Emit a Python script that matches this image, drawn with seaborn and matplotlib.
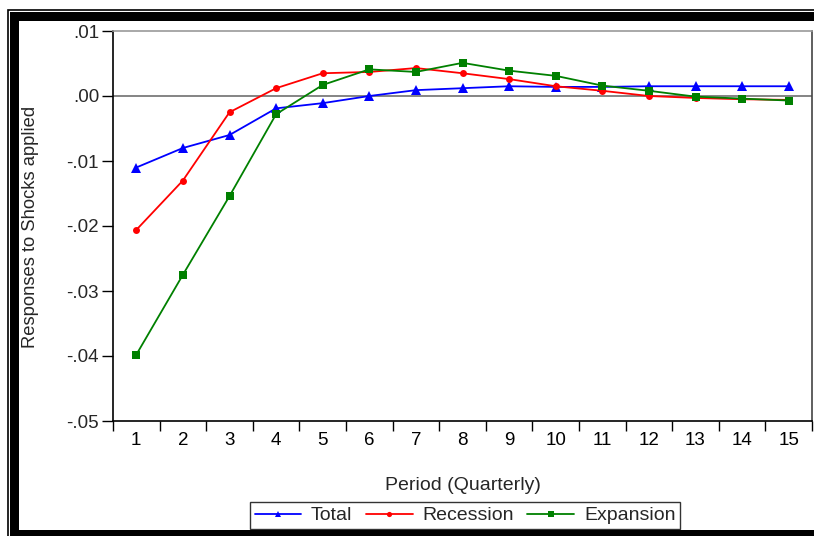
import matplotlib
matplotlib.use("Agg")
import matplotlib.pyplot as plt
from matplotlib.patches import Rectangle
from matplotlib.lines import Line2D
import seaborn as sns
import pandas as pd

periods = list(range(1, 16))
total = [-0.0110, -0.0080, -0.0060, -0.0019, -0.0011, 0.0000, 0.0009, 0.0012,
         0.0015, 0.0014, 0.0014, 0.0015, 0.0015, 0.0015, 0.0015]
recession = [-0.0206, -0.0130, -0.0025, 0.0012, 0.0035, 0.0037, 0.0043, 0.0035,
             0.0026, 0.0015, 0.0008, 0.0000, -0.0003, -0.0005, -0.0006]
expansion = [-0.0398, -0.0275, -0.0154, -0.0028, 0.0017, 0.0041, 0.0037, 0.0051,
             0.0039, 0.0031, 0.0016, 0.0008, -0.0001, -0.0004, -0.0007]
ytick_vals = [0.01, 0.00, -0.01, -0.02, -0.03, -0.04, -0.05]
ytick_labels = [".01", ".00", "-.01", "-.02", "-.03", "-.04", "-.05"]
series_names = ["Total", "Recession", "Expansion"]

sns.set_style("white")
plt.rcParams["font.family"] = ["Liberation Sans", "DejaVu Sans"]

W, H = 814, 536
fig = plt.figure(figsize=(W / 100, H / 100), dpi=100)
ax = fig.add_axes([113 / W, 115 / H, (812 - 113) / W, (421 - 31) / H])

styles = {
    "Total": dict(color="#0000FF", marker="^", ms=6.5),
    "Recession": dict(color="#FF0000", marker="o", ms=5),
    "Expansion": dict(color="#008000", marker="s", ms=6),
}
data = {"Total": total, "Recession": recession, "Expansion": expansion}

ax.axhline(0, color="#707070", lw=1.2, zorder=1)
for name in series_names:
    df = pd.DataFrame({"Period": periods, "Value": data[name]})
    st = styles[name]
    sns.lineplot(data=df, x="Period", y="Value", ax=ax, color=st["color"],
                 marker=st["marker"], markersize=st["ms"], markeredgewidth=0,
                 linewidth=1.3, label=name, legend=False, zorder=3)

ax.set_xlim(0.5, 15.5)
ax.set_ylim(-0.05, 0.01)
ax.set_xticks(periods)
ax.set_xticklabels([str(p) for p in periods])
ax.set_xticks([p + 0.5 for p in range(0, 16)], minor=True)
ax.tick_params(axis="x", which="major", length=0, pad=8, labelsize=13.5, colors="black")
ax.tick_params(axis="x", which="minor", length=7, width=1, direction="out",
               color="black", bottom=True)
ax.set_yticks(ytick_vals)
ax.set_yticklabels(ytick_labels)
ax.tick_params(axis="y", which="major", length=8, width=1, direction="out", pad=2,
               labelsize=13.5, color="black", left=True)

for side in ["left", "bottom"]:
    ax.spines[side].set_color("black")
    ax.spines[side].set_linewidth(1.2)
ax.spines["top"].set_color("#999999")
ax.spines["top"].set_linewidth(1.2)
ax.spines["right"].set_color("#444444")
ax.spines["right"].set_linewidth(1.2)

ax.set_xlabel("Period (Quarterly)", fontsize=14)
ax.xaxis.set_label_coords(0.5, (51 - 115) / 390)
ax.xaxis.label.set_va("center")
ax.set_ylabel("Responses to Shocks applied", fontsize=13.2)
ax.yaxis.set_label_coords((30 - 113) / 699, (536 - 227 - 115) / 390)
ax.yaxis.label.set_va("center")

handles = [Line2D([], [], color=styles[n]["color"], marker=styles[n]["marker"],
                  ms=styles[n]["ms"] * 0.75, mew=0, lw=1.3) for n in series_names]
leg = fig.legend(handles, series_names, ncol=3, loc="upper center",
                 bbox_to_anchor=(465 / W, 1 - 502 / H), fontsize=14,
                 frameon=True, fancybox=False, edgecolor="black",
                 handlelength=2.4, handletextpad=0.5, columnspacing=0.7,
                 borderpad=0.25, borderaxespad=0)
leg.get_frame().set_linewidth(1.0)

# outer frame
fig.add_artist(Rectangle((7.5 / W, -0.1), 2.0, (H - 9.5) / H + 0.1, transform=fig.transFigure,
                         fill=False, edgecolor="black", lw=1.2))
fig.add_artist(Rectangle((10 / W, -0.1), 9 / W, (H - 12) / H + 0.1, transform=fig.transFigure,
                         facecolor="black", edgecolor="none"))
fig.add_artist(Rectangle((10 / W, (H - 21) / H), 2.0, 9 / H, transform=fig.transFigure,
                         facecolor="black", edgecolor="none"))
fig.add_artist(Rectangle((10 / W, 0), 2.0, 6 / H, transform=fig.transFigure,
                         facecolor="black", edgecolor="none", zorder=10))

fig.savefig("out.png", dpi=100)
